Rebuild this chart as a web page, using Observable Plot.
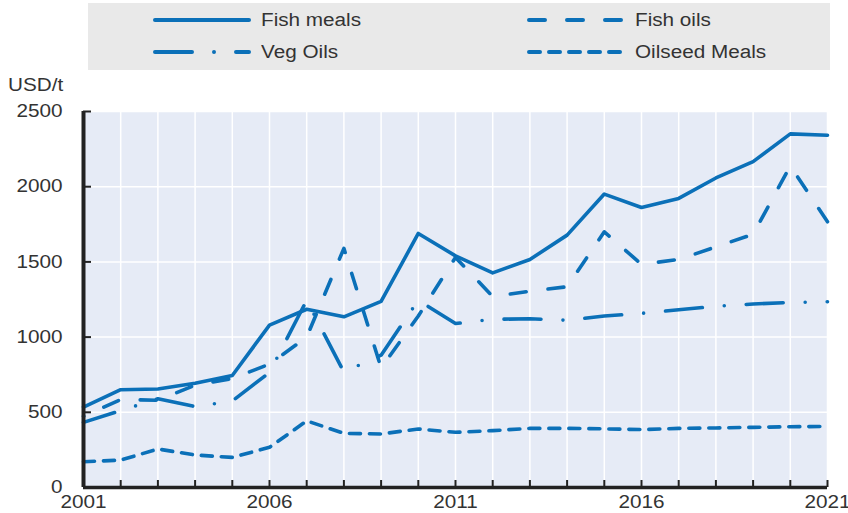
<!DOCTYPE html>
<html>
<head>
<meta charset="utf-8">
<script src="https://cdn.jsdelivr.net/npm/d3@7"></script>
<script src="https://cdn.jsdelivr.net/npm/@observablehq/plot@0.6"></script>
<style>
  body { margin: 0; background: #fff; font-family: "Liberation Sans", Arial, sans-serif; }
  #wrap { position: relative; width: 848px; height: 513px; overflow: hidden; }
  #legend { position: absolute; left: 88px; top: 3px; width: 742px; height: 67px; background: #e9e9e9; }
  .item { position: absolute; display: flex; align-items: center; font-size: 18px; color: #333; height: 20px; }
  .item svg { display: block; }
  .item span { margin-left: 8px; white-space: nowrap; display: inline-block; transform: scaleX(1.15); transform-origin: left center; }
  #unit { position: absolute; left: 8px; top: 75px; font-size: 18px; color: #333; transform: scaleX(1.15); transform-origin: left center; }
  #chart { position: absolute; left: 0; top: 72px; }
  #chart svg { overflow: visible; }
</style>
</head>
<body>
<div id="wrap">
  <div id="legend"></div>
  <div id="unit">USD/t</div>
  <div id="chart"></div>
</div>
<script>
// ---- data ----
const years = [2001, 2002, 2003, 2004, 2005, 2006, 2007, 2008, 2009, 2010, 2011,
               2012, 2013, 2014, 2015, 2016, 2017, 2018, 2019, 2020, 2021];
const fishMeals    = [535, 650, 655, 693, 745, 1080, 1185, 1135, 1237, 1689, 1540,
                      1427, 1516, 1678, 1951, 1862, 1922, 2058, 2167, 2351, 2342];
const fishOils     = [473, 585, 580, 680, 725, 820, 1000, 1590, 795, 1140, 1530,
                      1270, 1305, 1335, 1700, 1484, 1516, 1600, 1684, 2138, 1767];
const vegOils      = [433, 511, 590, 538, 575, 765, 1245, 767, 880, 1245, 1090,
                      1118, 1122, 1112, 1140, 1158, 1182, 1205, 1220, 1230, 1235];
const oilseedMeals = [171, 182, 256, 216, 200, 267, 443, 360, 356, 389, 367,
                      378, 393, 393, 390, 385, 393, 396, 400, 404, 406];
const seriesNames  = ["Fish meals", "Fish oils", "Veg Oils", "Oilseed Meals"];
const yTicks  = [0, 500, 1000, 1500, 2000, 2500];
const xLabels = [2001, 2006, 2011, 2016, 2021];

// ---- styles ----
const blue = "#0b70b8";
const dashes = ["none", "16,22", "37,22,0,22", "11,9"];
// dash phase anchors: [year where a given pattern position should fall, position in pattern, period]
const phaseAnchors = [null, [2017.65, 8, 38], [2020.4, 59, 81], null];
const lineWidth = 3.6;
const ink = "#333";

// ---- legend ----
const legend = document.getElementById("legend");
const legendPos = [[65, 7], [439, 7], [65, 39], [439, 39]];
seriesNames.forEach((name, i) => {
  const div = document.createElement("div");
  div.className = "item";
  div.style.left = legendPos[i][0] + "px";
  div.style.top = legendPos[i][1] + "px";
  const dash = dashes[i] === "none" ? "" : `stroke-dasharray="${dashes[i]}"`;
  div.innerHTML = `<svg width="100" height="12"><line x1="2" x2="96" y1="6" y2="6" stroke="${blue}" stroke-width="4" stroke-linecap="round" ${dash}/></svg><span>${name}</span>`;
  legend.appendChild(div);
});

// ---- table ----
const seriesValues = [fishMeals, fishOils, vegOils, oilseedMeals];
const rows = seriesNames.flatMap((s, k) => years.map((y, i) => ({series: s, year: y, value: seriesValues[k][i]})));

const lineMarks = seriesNames.map((s, k) =>
  Plot.line(rows.filter(d => d.series === s), {
    x: "year", y: "value", stroke: blue, strokeWidth: lineWidth,
    strokeDasharray: dashes[k] === "none" ? undefined : dashes[k],
    strokeLinecap: "round", strokeLinejoin: "round"
  })
);

const chart = Plot.plot({
  width: 848,
  height: 441,
  marginTop: 39,
  marginBottom: 26,
  marginLeft: 83,
  marginRight: 21,
  style: {fontFamily: "'Liberation Sans', Arial, sans-serif", fontSize: "18px", background: "transparent", color: ink, overflow: "visible"},
  x: {domain: [years[0], years[years.length - 1]], axis: null},
  y: {domain: [yTicks[0], yTicks[yTicks.length - 1]], axis: null},
  marks: [
    Plot.frame({fill: "#e6ebf6", stroke: "none"}),
    Plot.gridX(years, {stroke: "white", strokeOpacity: 1, strokeWidth: 1.5}),
    Plot.gridY(yTicks, {stroke: "white", strokeOpacity: 1, strokeWidth: 1.5}),
    ...lineMarks,
    Plot.ruleX([years[0]], {stroke: "#222", strokeWidth: 4}),
    Plot.ruleY([yTicks[0]], {stroke: "#222", strokeWidth: 3.5}),
    Plot.axisX(years, {tickSize: -7, tickFormat: () => "", stroke: "#222", strokeWidth: 2, label: null}),
    Plot.axisX(xLabels, {tickSize: 0, tickPadding: 8, tickFormat: d => String(d), label: null, fill: ink, fontSize: 18}),
    Plot.axisY(yTicks, {tickSize: -8, tickFormat: () => "", stroke: "#222", strokeWidth: 2, label: null}),
    Plot.axisY(yTicks, {tickSize: 0, tickPadding: 21, tickFormat: d => String(d), label: null, fill: ink, fontSize: 18})
  ]
});
document.getElementById("chart").appendChild(chart);

// widen glyphs slightly to match the reference's broad lettering
chart.querySelectorAll("text").forEach(t => {
  const w = t.getComputedTextLength();
  if (w > 0) {
    t.setAttribute("textLength", (w * 1.15).toFixed(1));
    t.setAttribute("lengthAdjust", "spacingAndGlyphs");
  }
});

// align dash phases with the reference
const xs = chart.scale("x");
const lineGroups = chart.querySelectorAll('g[aria-label="line"]');
phaseAnchors.forEach((a, k) => {
  if (!a || !lineGroups[k]) return;
  const path = lineGroups[k].querySelector("path");
  if (!path) return;
  const target = xs.apply(a[0]);
  let lo = 0, hi = path.getTotalLength();
  for (let i = 0; i < 40; i++) {
    const mid = (lo + hi) / 2;
    if (path.getPointAtLength(mid).x < target) lo = mid; else hi = mid;
  }
  const L = (lo + hi) / 2;
  const off = (((a[1] - L) % a[2]) + a[2]) % a[2];
  path.setAttribute("stroke-dashoffset", off.toFixed(2));
  lineGroups[k].setAttribute("stroke-dashoffset", off.toFixed(2));
});
</script>
</body>
</html>
